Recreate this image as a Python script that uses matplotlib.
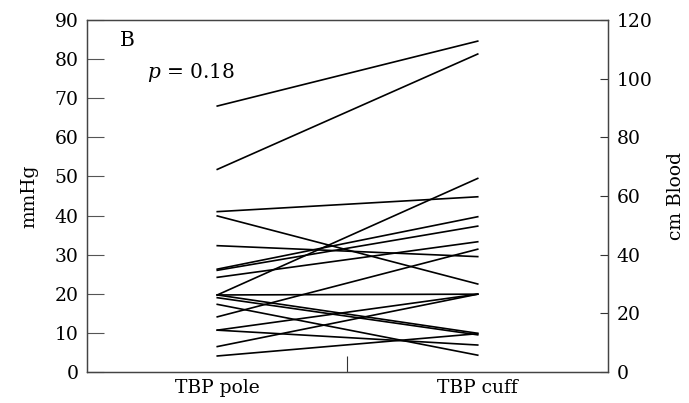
import numpy as np
import matplotlib
matplotlib.use("Agg")
import matplotlib.pyplot as plt

# mmHg readings for each subject: TBP pole -> TBP cuff
pole = [68.0, 51.8, 41.0, 39.9, 32.3, 26.3, 26.0, 24.2, 19.7,
        19.7, 19.7, 19.0, 17.3, 14.1, 10.7, 10.7, 6.5, 4.1]
cuff = [84.6, 81.3, 44.8, 22.5, 29.5, 39.7, 37.3, 33.3, 49.5,
        19.9, 9.9, 9.5, 4.3, 31.4, 19.9, 6.9, 19.9, 9.8]
groups = ["TBP pole", "TBP cuff"]
left_ticks = np.arange(0, 91, 10)
right_ticks = np.arange(0, 121, 20)

plt.rcParams['font.family'] = ['DejaVu Serif']
plt.rcParams['mathtext.fontset'] = 'dejavuserif'
plt.rcParams['font.size'] = 13.5

fig = plt.figure(figsize=(6.89, 4.03), dpi=100)
ax = fig.add_axes([0.1263, 0.0769, 0.7561, 0.8735])

for a, b in zip(pole, cuff):
    ax.plot([0, 1], [a, b], color='black', linewidth=1.2)

ax.set_xlim(-0.5, 1.5)
ax.set_ylim(0, 90)
ax.set_xticks([0, 1])
ax.set_xticklabels(groups)
ax.set_xticks([0.5], minor=True)
ax.tick_params(axis='x', which='major', length=0, pad=5)
ax.tick_params(axis='x', which='minor', direction='in', length=11.5, width=0.8, color='#333333')
ax.set_yticks(left_ticks)
ax.tick_params(axis='y', direction='in', length=12, width=0.8, color='#555555', pad=6)
ax.set_ylabel("mmHg", labelpad=12)
for s in ax.spines.values():
    s.set_color('#444444')
    s.set_linewidth(0.9)

ax2 = ax.twinx()
ax2.set_ylim(0, 120)
ax2.set_yticks(right_ticks)
ax2.tick_params(axis='y', direction='in', length=6, width=0.8, color='#333333', pad=6)
ax2.set_ylabel("cm Blood", labelpad=11)
for s in ax2.spines.values():
    s.set_color('#444444')
    s.set_linewidth(0.9)

ax.text(0.063, 0.943, "B", transform=ax.transAxes, fontsize=14.5, va='center')
ax.text(0.115, 0.852, r"$p$ = 0.18", transform=ax.transAxes, fontsize=14.5, va='center')

fig.savefig("out.png", dpi=100, facecolor='w')
